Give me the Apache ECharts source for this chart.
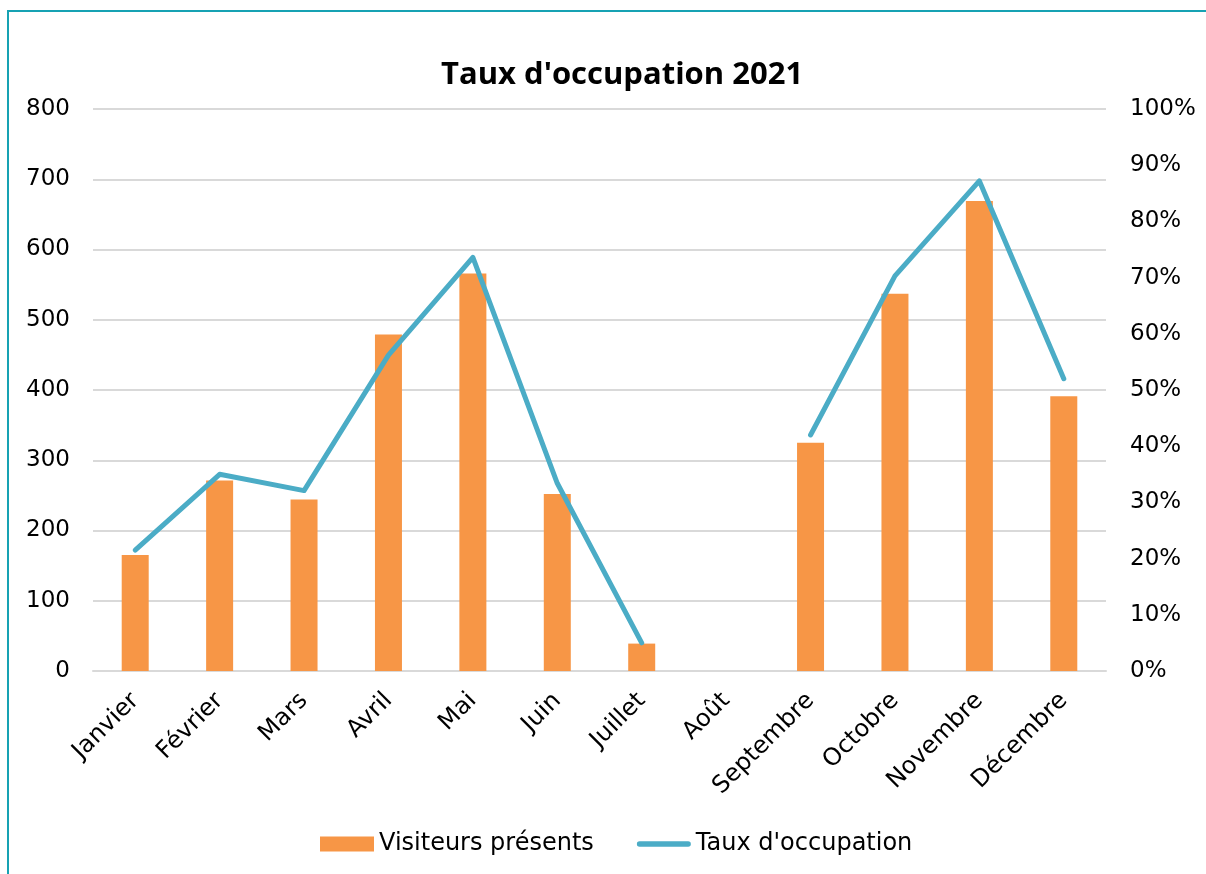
<!DOCTYPE html>
<html>
<head>
<meta charset="utf-8">
<script src="https://cdn.jsdelivr.net/npm/echarts@6/dist/echarts.min.js"></script>
<style>
  html, body { margin: 0; padding: 0; background: #fff; }
  #chart { width: 1206px; height: 874px; }
</style>
</head>
<body>
<div id="chart"></div>
<script>
// data
const months = ["Janvier", "Février", "Mars", "Avril", "Mai", "Juin", "Juillet", "Août", "Septembre", "Octobre", "Novembre", "Décembre"];
const visiteurs = [165, 271, 244, 479, 566, 252, 39, "-", 325, 537, 669, 391];
const tauxOccupation = [21.5, 35.0, 32.1, 56.2, 73.6, 33.4, 5.0, "-", 42.0, 70.3, 87.2, 52.0];
const leftTicks = [0, 800, 100];
const rightTicks = [0, 100, 10];

const font = "DejaVu Sans";
const chart = echarts.init(document.getElementById("chart"));

chart.setOption({
  animation: false,
  textStyle: { fontFamily: font, color: "#000" },
  title: {
    text: "Taux d'occupation 2021",
    left: 436,
    top: 55,
    textStyle: { fontFamily: "Open Sans", fontWeight: "bold", fontSize: 31, color: "#000" }
  },
  graphic: [{
    type: "rect",
    shape: { x: 8, y: 11, width: 1300, height: 1000 },
    style: { fill: "none", stroke: "#17A2B3", lineWidth: 2 },
    silent: true
  }],
  legend: {
    top: 827,
    left: 315,
    itemWidth: 54,
    itemHeight: 15,
    itemGap: 43,
    textStyle: { fontFamily: font, fontSize: 24, color: "#000" },
    data: [
      { name: "Visiteurs présents", icon: "rect" },
      { name: "Taux d'occupation", icon: "path://M5,0 H95 A5,5 0 0 1 95,10 H5 A5,5 0 0 1 5,0 Z" }
    ]
  },
  grid: { left: 93, right: 100, top: 109, bottom: 203 },
  xAxis: {
    type: "category",
    data: months,
    axisTick: { show: false },
    axisLine: { lineStyle: { color: "#D9D9D9", width: 2 } },
    axisLabel: { rotate: 45, margin: 26, fontSize: 24, color: "#000", fontFamily: font, interval: 0 }
  },
  yAxis: [{
    type: "value",
    min: leftTicks[0],
    max: leftTicks[1],
    interval: leftTicks[2],
    axisLine: { show: false },
    axisTick: { show: false },
    splitLine: { lineStyle: { color: "#D9D9D9", width: 2 } },
    axisLabel: { margin: 23, fontSize: 23, color: "#000", fontFamily: font }
  }, {
    type: "value",
    min: rightTicks[0],
    max: rightTicks[1],
    interval: rightTicks[2],
    axisLine: { show: false },
    axisTick: { show: false },
    splitLine: { show: false },
    axisLabel: { margin: 24, fontSize: 23, color: "#000", fontFamily: font, formatter: "{value}%" }
  }],
  series: [{
    name: "Visiteurs présents",
    type: "bar",
    data: visiteurs,
    barWidth: 27,
    itemStyle: { color: "#F79646" }
  }, {
    name: "Taux d'occupation",
    type: "line",
    yAxisIndex: 1,
    data: tauxOccupation,
    symbol: "none",
    connectNulls: false,
    lineStyle: { color: "#4BACC6", width: 5, cap: "round", join: "round" },
    itemStyle: { color: "#4BACC6" }
  }]
});
</script>
</body>
</html>
